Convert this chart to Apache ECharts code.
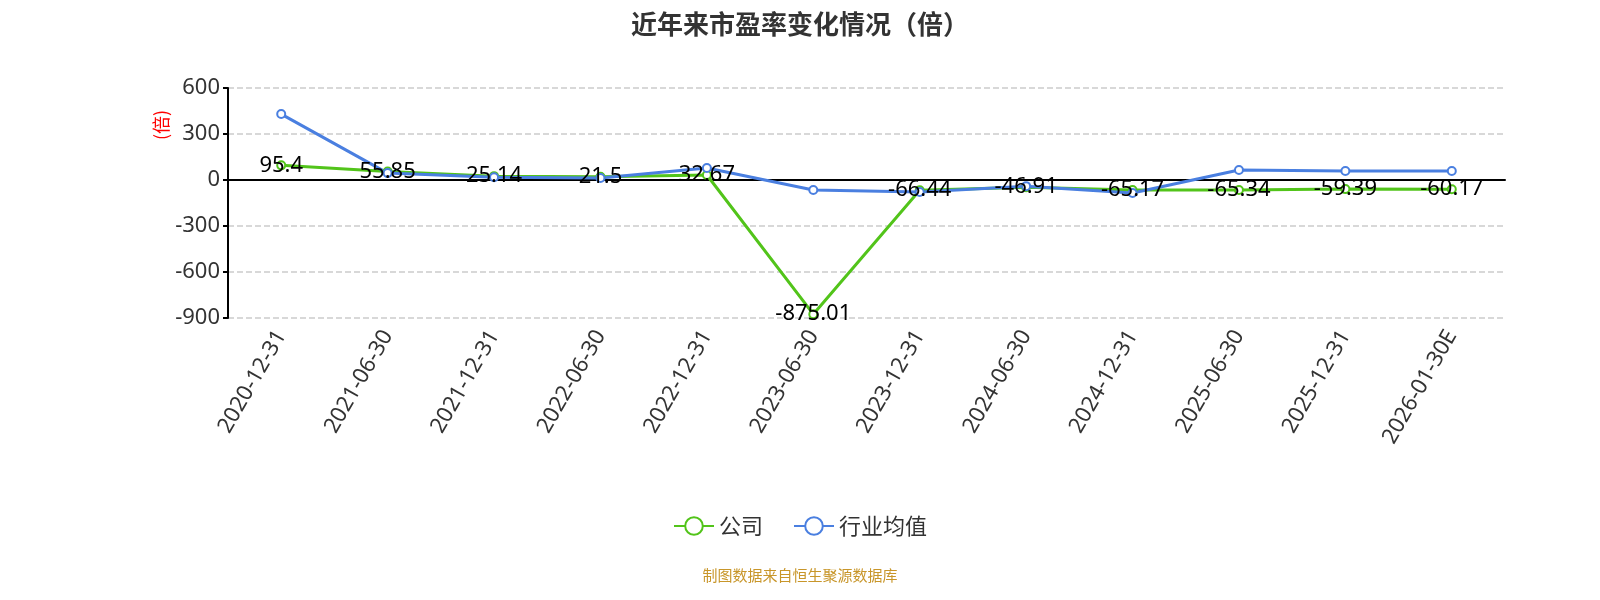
<!DOCTYPE html>
<html lang="en">
    <head>
        <meta charset="UTF-8" />
        <script src="https://cdn.jsdelivr.net/npm/echarts@6.0.0/dist/echarts.min.js"></script>
        <title>近年来市盈率变化情况</title>
        <style>
            body { margin: 0; }
            #main { width: 1600px; height: 600px; }
        </style>
    </head>
    <body>
        <div id="main"></div>
        <script type="text/javascript">
            var dates = ["2020-12-31", "2021-06-30", "2021-12-31", "2022-06-30", "2022-12-31", "2023-06-30",
                "2023-12-31", "2024-06-30", "2024-12-31", "2025-06-30", "2025-12-31", "2026-01-30E"];
            var company = [95.4, 55.85, 25.14, 21.5, 32.67, -875.01, -66.44, -46.91, -65.17, -65.34, -59.39, -60.17];
            var industry = [430, 45, 18, 13, 78, -65, -78, -40, -85, 65, 59, 59];

            var chart = echarts.init(document.getElementById("main"));
            var font = "'Noto Sans', sans-serif";
            chart.setOption({
                animation: false,
                textStyle: { fontFamily: font },
                title: {
                    text: "近年来市盈率变化情况（倍）",
                    left: "center",
                    top: 6,
                    textStyle: { fontSize: 26, fontWeight: "bold", color: "#333", fontFamily: "'Noto Sans CJK SC', sans-serif" },
                },
                grid: { left: 228, right: 95, top: 88, bottom: 282 },
                legend: {
                    bottom: 58,
                    itemWidth: 40,
                    itemHeight: 22,
                    itemGap: 30,
                    textStyle: { fontSize: 22, color: "#333", fontFamily: "'Noto Sans CJK SC', sans-serif" },
                    data: ["公司", "行业均值"],
                },
                graphic: [
                    {
                        type: "text",
                        left: "center",
                        top: 568,
                        style: { text: "制图数据来自恒生聚源数据库", fill: "#c8962a", fontSize: 15, fontFamily: "'Noto Sans CJK SC', sans-serif" },
                    },
                    {
                        type: "text",
                        x: 152,
                        y: 140,
                        rotation: Math.PI / 2,
                        style: { text: "(倍)", fill: "red", fontSize: 18, fontFamily: "'Noto Sans CJK SC', sans-serif" },
                    },
                ],
                xAxis: {
                    type: "category",
                    data: dates,
                    boundaryGap: true,
                    axisLine: { onZero: true, lineStyle: { color: "#000", width: 2 } },
                    axisTick: { lineStyle: { color: "#000", width: 2 } },
                    axisLabel: { rotate: 60, fontSize: 22, color: "#333", interval: 0, margin: 14 },
                },
                yAxis: {
                    type: "value",
                    min: -900,
                    max: 600,
                    interval: 300,
                    axisLine: { show: true, lineStyle: { color: "#000", width: 2 } },
                    axisTick: { show: true, lineStyle: { color: "#000", width: 2 } },
                    axisLabel: { fontSize: 22, color: "#333" },
                    splitLine: { lineStyle: { type: "dashed", color: "#ccc", width: 1.5 } },
                },
                series: [
                    {
                        name: "公司",
                        type: "line",
                        data: company,
                        symbol: "emptyCircle",
                        symbolSize: 8,
                        lineStyle: { color: "#52c41a", width: 3 },
                        itemStyle: { color: "#52c41a" },
                        label: { show: true, position: "inside", fontSize: 22, color: "#000" },
                    },
                    {
                        name: "行业均值",
                        type: "line",
                        data: industry,
                        symbol: "emptyCircle",
                        symbolSize: 8,
                        lineStyle: { color: "#4a7fe0", width: 3 },
                        itemStyle: { color: "#4a7fe0" },
                    },
                ],
            });
        </script>
    </body>
</html>
